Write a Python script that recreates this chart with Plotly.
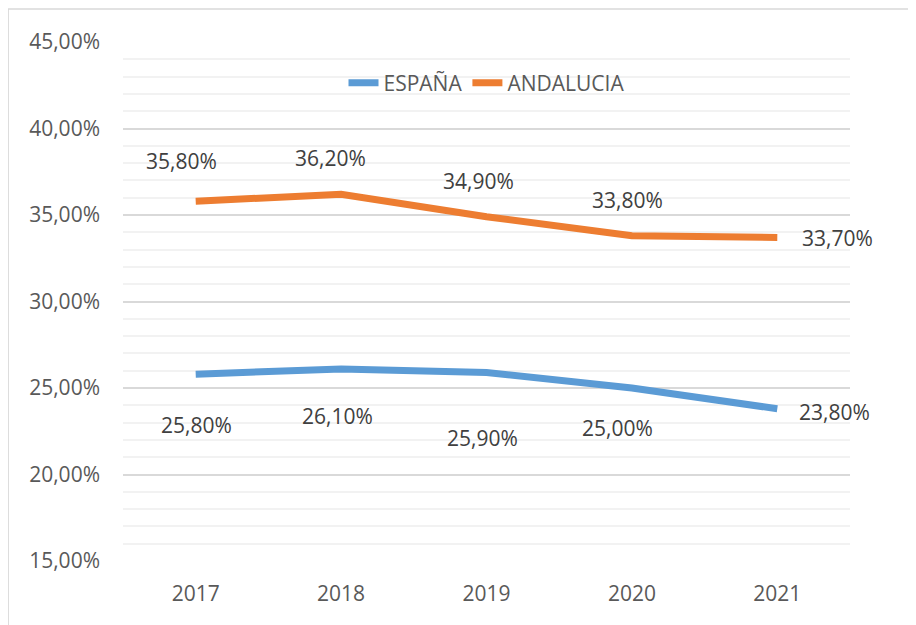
import plotly.graph_objects as go

years = ["2017", "2018", "2019", "2020", "2021"]
espana = [25.8, 26.1, 25.9, 25.0, 23.8]
andalucia = [35.8, 36.2, 34.9, 33.8, 33.7]
y_min, y_max, y_major, y_minor = 15, 45, 5, 1

BLUE = "#5b9bd5"
ORANGE = "#ed7d31"
FONT = "Open Sans"
FS = 21

# label offsets (pixels) relative to each point, as Excel placed them
esp_shift = [(1, -51, "center"), (-4, -47, "center"), (-4, -66, "center"), (-14, -40, "center"), (20, -3, "left")]
and_shift = [(-14, 40, "center"), (-11, 36, "center"), (-8, 36, "center"), (-4, 36, "center"), (23, -1, "left")]


def fmt(v):
    return f"{v:.2f}".replace(".", ",") + "%"


fig = go.Figure()
fig.add_trace(go.Scatter(x=years, y=espana, name="ESPAÑA", mode="lines",
                         line=dict(color=BLUE, width=7)))
fig.add_trace(go.Scatter(x=years, y=andalucia, name="ANDALUCIA", mode="lines",
                         line=dict(color=ORANGE, width=7)))

annotations = []
for series, shifts in ((espana, esp_shift), (andalucia, and_shift)):
    for i, (v, (dx, dy, anc)) in enumerate(zip(series, shifts)):
        annotations.append(dict(x=i, y=v, xref="x", yref="y", text=fmt(v),
                                showarrow=False, xanchor=anc, yanchor="middle",
                                xshift=dx, yshift=dy,
                                font=dict(family=FONT, size=FS, color="#404040")))

fig.update_layout(
    width=908, height=617,
    margin=dict(l=115, r=66, t=34, b=64),
    paper_bgcolor="white", plot_bgcolor="white",
    separators=",.",
    font=dict(family=FONT, size=FS, color="#595959"),
    showlegend=True,
    legend=dict(orientation="h", x=0.5, xanchor="center", y=0.921, yanchor="middle",
                bgcolor="rgba(0,0,0,0)", font=dict(family=FONT, size=FS, color="#595959"),
                traceorder="normal"),
    annotations=annotations,
    shapes=[dict(type="rect", xref="paper", yref="paper", x0=-0.158, x1=1.3, y0=-0.3, y1=1.0636,
                 line=dict(color="#d9d9d9", width=1.5), fillcolor="rgba(0,0,0,0)", layer="below")],
)
fig.update_xaxes(type="category", range=[-0.5, 4.5], showgrid=False, zeroline=False,
                 showline=False, ticks="", ticklabelstandoff=18,
                 tickfont=dict(family=FONT, size=FS, color="#595959"))
fig.update_yaxes(range=[y_min, y_max], tickmode="linear", tick0=y_min, dtick=y_major,
                 tickformat=".2f", ticksuffix="%",
                 showgrid=True, gridcolor="#d9d9d9", gridwidth=1.5, zeroline=False,
                 showline=False, ticks="", ticklabelstandoff=22,
                 tickfont=dict(family=FONT, size=FS, color="#595959"),
                 minor=dict(tickmode="linear", tick0=y_min, dtick=y_minor, showgrid=True,
                            gridcolor="#f2f2f2", gridwidth=1.5))

fig.write_html("out.html")
